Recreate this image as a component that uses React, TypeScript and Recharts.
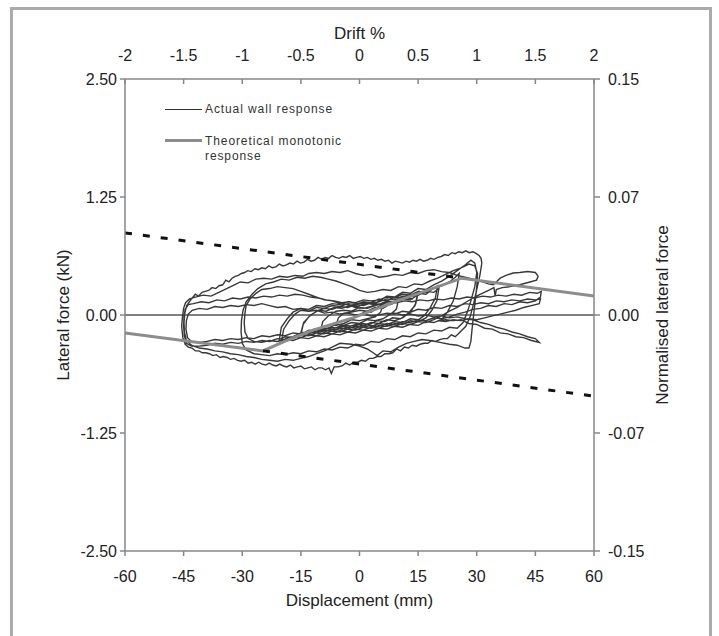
import { ComposedChart, Line, XAxis, YAxis, ReferenceLine } from "recharts";

const FONT = '"Liberation Sans", Arial, sans-serif';

// axis ticks
const displacementTicks = [-60, -45, -30, -15, 0, 15, 30, 45, 60];
const driftTicks = [-2, -1.5, -1, -0.5, 0, 0.5, 1, 1.5, 2];
const forceTicks = [-2.5, -1.25, 0, 1.25, 2.5];
const normTicks = [-0.15, -0.075, 0, 0.075, 0.15];
const normTickLabels = ["-0.15", "-0.07", "0.00", "0.07", "0.15"];

// [displacement mm, lateral force kN]
const theoreticalPts = [
  [-60, -0.19], [-24.7, -0.38], [-18.6, -0.27], [-11.9, -0.16], [-1.7, -0.03],
  [10.4, 0.16], [26.2, 0.39], [60, 0.2],
];
const upperEnvelopePts = [[-60, 0.87], [26.2, 0.39]];
const lowerEnvelopePts = [[-24.7, -0.38], [60, -0.86]];

// measured cyclic response, cycle by cycle
const wallCycle1 = [
  [0, 0], [1.5, 0.04], [3, 0.03], [4.5, 0.08], [6, 0.11], [5.4, 0.03], [4, -0.02], [2, -0.04],
  [0, -0.06], [-2, -0.05], [-4, -0.09], [-6, -0.11], [-5.4, -0.03], [-4, 0.02], [-2, 0.03],
  [0, 0.05], [2, 0.04],
];
const wallCycle2 = [
  [4, 0.08], [6, 0.07], [8, 0.12], [10, 0.16], [9.4, 0.06], [8, 0.01], [6, -0.04], [4, -0.06],
  [2, -0.05], [0, -0.09], [-2, -0.08], [-4, -0.11], [-6, -0.1], [-8, -0.14], [-10, -0.17],
  [-9.4, -0.07], [-8, -0.01], [-6, 0.04], [-4, 0.05], [-2, 0.04], [0, 0.08], [2, 0.07], [4, 0.1],
];
const wallCycle3 = [
  [6, 0.12], [8, 0.11], [10, 0.15], [12, 0.18], [13.5, 0.17], [15, 0.24], [14.4, 0.12], [13, 0.03],
  [11, -0.03], [9, -0.06], [7, -0.05], [5, -0.09], [3, -0.08], [1, -0.11], [-1, -0.1], [-3, -0.13],
  [-5, -0.12], [-7, -0.15], [-9, -0.14], [-11, -0.17], [-13, -0.16], [-15, -0.21], [-14.4, -0.1],
  [-13, -0.02], [-11, 0.04], [-9, 0.07], [-7, 0.06], [-5, 0.09], [-3, 0.08], [-1, 0.11], [1, 0.1],
  [3, 0.13],
];
const wallCycle3b = [
  [5, 0.11], [7, 0.15], [9, 0.13], [11, 0.17], [13, 0.16], [14.8, 0.21], [14.2, 0.1], [12.5, 0.02],
  [10.5, -0.04], [8.5, -0.03], [6.5, -0.07], [4.5, -0.06], [2.5, -0.1], [0.5, -0.09], [-1.5, -0.12],
  [-3.5, -0.11], [-5.5, -0.14], [-7.5, -0.13], [-9.5, -0.16], [-11.5, -0.15], [-13.5, -0.18],
  [-15, -0.19], [-14.3, -0.08], [-12.5, 0], [-10.5, 0.05], [-8.5, 0.04], [-6.5, 0.08], [-4.5, 0.07],
  [-2.5, 0.1], [-0.5, 0.09], [1.5, 0.12], [3, 0.12],
];
const wallCycle4 = [
  [5, 0.14], [7, 0.17], [9, 0.16], [11, 0.2], [13, 0.19], [15, 0.23], [17, 0.22], [18.5, 0.27],
  [20, 0.31], [19.4, 0.18], [18, 0.07], [16.5, -0.01], [15, -0.05], [13, -0.04], [11, -0.08],
  [9, -0.07], [7, -0.1], [5, -0.09], [3, -0.12], [1, -0.11], [-1, -0.14], [-3, -0.13], [-5, -0.16],
  [-7, -0.15], [-9, -0.18], [-11, -0.17], [-13, -0.2], [-15, -0.19], [-17, -0.23], [-18.5, -0.24],
  [-20, -0.28], [-19.4, -0.15], [-18, -0.06], [-16.5, 0.01], [-15, 0.05], [-13, 0.04], [-11, 0.08],
  [-9, 0.07], [-7, 0.1], [-5, 0.09], [-3, 0.12], [-1, 0.11], [1, 0.14], [3, 0.13],
];
const wallCycle4b = [
  [5, 0.17], [7, 0.15], [9, 0.19], [11, 0.18], [13, 0.22], [15, 0.21], [17, 0.25], [19, 0.24],
  [20.3, 0.28], [19.8, 0.15], [18.5, 0.05], [17, -0.03], [15, -0.07], [13, -0.06], [11, -0.1],
  [9, -0.09], [7, -0.12], [5, -0.11], [3, -0.14], [1, -0.13], [-1, -0.16], [-3, -0.15], [-5, -0.18],
  [-7, -0.17], [-9, -0.2], [-11, -0.19], [-13, -0.22], [-15, -0.21], [-17, -0.24], [-19, -0.23],
  [-20.5, -0.26], [-20, -0.13], [-18.5, -0.04], [-17, 0.03], [-15, 0.07], [-13, 0.06], [-11, 0.1],
  [-9, 0.09], [-7, 0.12], [-5, 0.11], [-3, 0.14], [-1, 0.13], [1, 0.16], [3, 0.15],
];
const wallCycle5 = [
  [5, 0.16], [7, 0.19], [9, 0.18], [11, 0.22], [13, 0.21], [15, 0.25], [17, 0.24], [19, 0.28],
  [21, 0.31], [23, 0.35], [24.5, 0.4], [25.5, 0.44], [25, 0.3], [24, 0.15], [22.5, 0.03],
  [21, -0.05], [19, -0.08], [17, -0.07], [15, -0.11], [13, -0.1], [11, -0.13], [9, -0.12],
  [7, -0.15], [5, -0.14], [3, -0.17], [1, -0.16], [-1, -0.19], [-3, -0.18], [-5, -0.21],
  [-7, -0.2], [-9, -0.23], [-11, -0.22], [-13, -0.25], [-15, -0.24], [-17, -0.27], [-19, -0.26],
  [-21, -0.28], [-23, -0.27], [-25, -0.29], [-27, -0.28], [-28.5, -0.25], [-29.3, -0.18],
  [-29.5, -0.08], [-29.3, 0.02], [-29, 0.1], [-28, 0.17], [-26.5, 0.23], [-25, 0.27], [-23, 0.28],
  [-21, 0.3], [-19, 0.29], [-17, 0.28], [-15, 0.25], [-13, 0.22], [-11, 0.19], [-9, 0.16],
  [-7, 0.15], [-5, 0.12], [-3, 0.11], [-1, 0.08], [1, 0.07], [3, 0.09],
];
const wallCycle6 = [
  [5, 0.15], [7, 0.2], [9, 0.19], [11, 0.24], [13, 0.23], [15, 0.28], [17, 0.27], [19, 0.32],
  [21, 0.36], [23, 0.41], [25, 0.47], [27, 0.53], [28.5, 0.58], [29.5, 0.55], [30, 0.45],
  [29.5, 0.3], [28.5, 0.15], [27.5, 0.02], [26.5, -0.08], [25, -0.14], [23, -0.13], [21, -0.17],
  [19, -0.16], [17, -0.2], [15, -0.19], [13, -0.23], [11, -0.22], [9, -0.26], [7, -0.25],
  [5, -0.29], [3, -0.28], [1, -0.32], [-1, -0.31], [-3, -0.35], [-5, -0.34], [-7, -0.37],
  [-9, -0.36], [-11, -0.39], [-13, -0.38], [-15, -0.41], [-17, -0.4], [-19, -0.42], [-21, -0.41],
  [-23, -0.43], [-25, -0.42], [-27, -0.41], [-29, -0.37], [-30, -0.3], [-30.3, -0.18],
  [-30.2, -0.06], [-29.8, 0.05], [-29, 0.14], [-27.5, 0.22], [-26, 0.28], [-24, 0.33], [-22, 0.35],
  [-20, 0.38], [-18, 0.37], [-16, 0.4], [-14, 0.39], [-12, 0.41], [-10, 0.4], [-8, 0.38],
  [-6, 0.36], [-4, 0.33], [-2, 0.3], [0, 0.26], [2, 0.24], [4, 0.25],
];
const wallCycle7 = [
  [6, 0.27], [8, 0.26], [10, 0.3], [12, 0.29], [14, 0.33], [16, 0.32], [18, 0.36], [20, 0.39],
  [22, 0.43], [24, 0.47], [26, 0.5], [28, 0.54], [29.5, 0.52], [30.2, 0.44], [30, 0.3],
  [29.6, 0.15], [29.2, 0], [28.8, -0.15], [28.5, -0.28], [28, -0.35], [27, -0.35], [25, -0.32],
  [23, -0.31], [20.6, -0.29], [18, -0.27], [16, -0.26], [14, -0.28], [12, -0.3], [10, -0.34],
  [8, -0.39], [6, -0.38], [4.5, -0.43], [3.5, -0.4], [2, -0.36], [0, -0.33], [-2, -0.31],
  [-5, -0.3], [-7, -0.34], [-9, -0.38], [-11, -0.41], [-13, -0.44], [-15, -0.46], [-17, -0.48],
  [-19, -0.47], [-21, -0.49], [-23, -0.48], [-25, -0.47], [-27, -0.45], [-29, -0.44],
  [-31, -0.42], [-33, -0.41], [-35, -0.39], [-37, -0.38], [-39, -0.36], [-41, -0.35],
  [-43, -0.32], [-44.3, -0.27], [-44.8, -0.18], [-44.9, -0.08], [-44.7, 0.02], [-44.2, 0.1],
  [-43, 0.17], [-42, 0.22], [-41.2, 0.2], [-40.3, 0.24], [-39.5, 0.25], [-38.6, 0.26],
  [-37.7, 0.29], [-36.8, 0.28], [-35.9, 0.31], [-35, 0.32], [-34.2, 0.37], [-33.4, 0.35],
  [-32.6, 0.39], [-31.8, 0.41], [-31, 0.42], [-30.2, 0.44], [-29.4, 0.45], [-28.6, 0.47],
  [-27.7, 0.46], [-26.8, 0.49], [-25.9, 0.48], [-25, 0.5], [-24.1, 0.49], [-23.2, 0.52],
  [-22.3, 0.5], [-21.4, 0.51], [-20.5, 0.54], [-19.6, 0.52], [-18.7, 0.53], [-17.8, 0.55],
  [-16.9, 0.54], [-16, 0.57], [-15.1, 0.55], [-14.2, 0.56], [-13.3, 0.59], [-12.4, 0.57],
  [-11.5, 0.58], [-10.6, 0.61], [-9.7, 0.59], [-8.8, 0.61], [-7.9, 0.6], [-7, 0.63], [-6.1, 0.61],
  [-5.2, 0.6], [-4.3, 0.62], [-3.4, 0.61], [-2.5, 0.63], [-1.6, 0.6], [-0.7, 0.61], [0.2, 0.62],
  [1.1, 0.6], [2, 0.61], [2.9, 0.59], [3.8, 0.6], [4.7, 0.58], [5.6, 0.59], [6.5, 0.57],
  [7.4, 0.58], [8.3, 0.55], [9.2, 0.57], [10.1, 0.56], [11, 0.55], [11.9, 0.57], [12.8, 0.56],
  [13.7, 0.58], [14.6, 0.57], [15.5, 0.59], [16.4, 0.57], [17.3, 0.58], [18.2, 0.6], [19.1, 0.59],
  [20, 0.61], [20.9, 0.62], [21.8, 0.64], [22.7, 0.63], [23.6, 0.66], [24.5, 0.65], [25.4, 0.67],
  [26.3, 0.66], [27.2, 0.68], [28.1, 0.66], [29, 0.67], [29.9, 0.65], [30.6, 0.63], [31.1, 0.6],
  [31.3, 0.55],
];
const wallCycle8 = [
  [30.8, 0.42], [30, 0.27], [29.2, 0.12], [28.3, -0.02], [27.2, -0.12], [25.5, -0.19],
  [24.5, -0.23], [23.5, -0.21], [22.5, -0.25], [21.5, -0.25], [20.5, -0.26], [19.5, -0.28],
  [18.5, -0.27], [17.5, -0.3], [16.5, -0.3], [15.5, -0.31], [14.5, -0.33], [13.5, -0.32],
  [12.5, -0.35], [11.5, -0.34], [10.5, -0.38], [9.5, -0.36], [8.5, -0.4], [7.5, -0.41],
  [6.5, -0.41], [5.5, -0.44], [4.5, -0.44], [3.5, -0.46], [2.5, -0.46], [1.5, -0.49], [0.5, -0.48],
  [-0.5, -0.5], [-1.5, -0.5], [-2.5, -0.53], [-3.5, -0.51], [-4.5, -0.54], [-5.5, -0.55],
  [-6.5, -0.55], [-7.2, -0.62], [-7.8, -0.56], [-8.7, -0.58], [-9.6, -0.56], [-10.5, -0.56],
  [-11.4, -0.58], [-12.3, -0.55], [-13.2, -0.56], [-14.1, -0.57], [-15, -0.54], [-15.9, -0.55],
  [-16.8, -0.56], [-17.7, -0.53], [-18.6, -0.55], [-19.5, -0.54], [-20.4, -0.52], [-21.3, -0.54],
  [-22.2, -0.53], [-23.1, -0.51], [-24, -0.53], [-24.9, -0.52], [-25.8, -0.5], [-26.7, -0.52],
  [-27.6, -0.5], [-28.5, -0.51], [-29.4, -0.48], [-30.3, -0.49], [-31.2, -0.48], [-32.1, -0.46],
  [-33, -0.47], [-33.9, -0.45], [-34.8, -0.44], [-35.7, -0.45], [-36.6, -0.42], [-37.5, -0.43],
  [-38.4, -0.41], [-39.3, -0.4], [-40.2, -0.4], [-41.1, -0.38], [-42, -0.38], [-42.9, -0.35],
  [-43.8, -0.34], [-44.6, -0.31], [-45.2, -0.24], [-45.5, -0.12], [-45.3, -0.02], [-45, 0.07],
  [-44.5, 0.13], [-43.5, 0.17], [-42, 0.19], [-40, 0.21], [-38, 0.2], [-36, 0.24], [-34, 0.28],
  [-32, 0.32], [-30.5, 0.35], [-28.5, 0.34], [-26.5, 0.38], [-24.5, 0.39], [-22.5, 0.38],
  [-20.5, 0.41], [-18.5, 0.4], [-16.5, 0.42], [-14.5, 0.41], [-13, 0.44], [-11, 0.45], [-9, 0.44],
  [-7, 0.46], [-5, 0.45], [-3, 0.47], [-1, 0.44], [1, 0.42], [3, 0.43], [5, 0.4], [7, 0.41],
  [9, 0.43], [11, 0.42], [13, 0.45], [15, 0.44], [17, 0.47], [19, 0.48], [21, 0.46], [23, 0.45],
  [25, 0.42], [27, 0.4], [29, 0.38], [31, 0.36], [33, 0.33], [34.2, 0.32], [35, 0.35], [36, 0.39],
  [37.5, 0.42], [39.3, 0.445], [41, 0.45], [43, 0.46], [45, 0.45], [45.7, 0.41], [45.3, 0.37],
  [43.6, 0.35], [41, 0.32], [38.5, 0.3], [36.5, 0.29], [35, 0.27], [34.7, 0.2], [34.4, 0.29],
  [33, 0.26], [31, 0.22], [29, 0.18], [27, 0.13], [25, 0.08], [23, 0.04], [21, -0.01], [19, -0.05],
  [17, -0.08], [15, -0.07], [13, -0.1], [11, -0.09], [9, -0.12], [7, -0.11], [5, -0.14], [3, -0.13],
  [1, -0.16], [-1, -0.15], [-3, -0.18], [-5, -0.17], [-7, -0.2], [-9, -0.19], [-11, -0.22],
  [-13, -0.21], [-15, -0.24], [-17, -0.23], [-19, -0.26], [-21, -0.25], [-23, -0.28], [-25, -0.27],
  [-27, -0.29], [-29, -0.28], [-31, -0.3], [-33, -0.29], [-35, -0.31], [-37, -0.3], [-39, -0.32],
  [-41, -0.33], [-43, -0.33], [-44.3, -0.3], [-44.8, -0.22], [-45, -0.12], [-44.9, -0.02],
  [-44.6, 0.06], [-43.8, 0.11], [-42.5, 0.12], [-40.5, 0.14], [-38.5, 0.13], [-36.5, 0.16],
  [-34.5, 0.15], [-32.5, 0.18], [-30.5, 0.17], [-28.5, 0.19], [-26.5, 0.18], [-24.5, 0.2],
  [-22.5, 0.19], [-20.5, 0.21], [-18.5, 0.2], [-16.5, 0.22], [-14.5, 0.21], [-12.5, 0.19],
  [-10.5, 0.18], [-8.5, 0.16], [-6.5, 0.15], [-4.5, 0.13], [-2.5, 0.14], [-0.5, 0.12], [1.5, 0.13],
  [3.5, 0.11], [5.5, 0.12], [7.5, 0.14], [9.5, 0.13], [11.5, 0.15], [13.5, 0.14], [15.5, 0.16],
  [17.5, 0.15], [19.5, 0.17], [21.5, 0.16], [23.5, 0.18], [25.5, 0.17], [27.5, 0.19], [29.5, 0.18],
  [31.5, 0.2], [33.5, 0.19], [35.5, 0.21], [37.5, 0.2], [39.5, 0.22], [41.5, 0.21], [43.5, 0.24],
  [45.5, 0.23], [46.5, 0.25], [46.3, 0.19], [45, 0.15], [43, 0.13], [41, 0.14], [39, 0.11],
  [37, 0.12], [35, 0.09], [33, 0.1], [31, 0.07], [29, 0.06], [27, 0.03], [25, 0.01], [23, -0.02],
  [21, -0.04], [19, -0.03], [17, -0.06],
];
const wallCycle9 = [
  [15, -0.05], [13, -0.08], [11, -0.07], [9, -0.1], [7, -0.09], [5, -0.12], [3, -0.11], [1, -0.13],
  [-1, -0.12], [-3, -0.15], [-5, -0.14], [-7, -0.17], [-9, -0.16], [-11, -0.19], [-13, -0.18],
  [-15, -0.2], [-17, -0.19], [-19, -0.22], [-21, -0.21], [-23, -0.23], [-25, -0.22], [-27, -0.25],
  [-29, -0.24], [-31, -0.26], [-33, -0.25], [-35, -0.27], [-37, -0.26], [-39, -0.28], [-41, -0.29],
  [-43, -0.28], [-44, -0.24], [-44.4, -0.15], [-44.3, -0.06], [-43.8, 0.01], [-42.8, 0.05],
  [-41, 0.07], [-39, 0.06], [-37, 0.09], [-35, 0.08], [-33, 0.1], [-31, 0.09], [-29, 0.11],
  [-27, 0.1], [-25, 0.12], [-23, 0.1], [-21, 0.08], [-19, 0.09], [-17, 0.06], [-15, 0.07],
  [-13, 0.04], [-11, 0.05], [-9, 0.02], [-7, 0.03], [-5, 0.01], [-3, 0.02], [-1, 0], [1, 0.01],
  [3, -0.01], [5, 0], [7, 0.02], [9, 0.01], [11, 0.04], [13, 0.03], [15, 0.06], [17, 0.05],
  [19, 0.08], [21, 0.07], [23, 0.1], [25, 0.09], [27, 0.12], [29, 0.11], [31, 0.13], [33, 0.12],
  [35, 0.15], [37, 0.14], [39, 0.16], [41, 0.15], [43, 0.17], [45, 0.16], [46.3, 0.17], [46, 0.12],
  [44, 0.1], [42, 0.08], [40, 0.05], [38, 0.03], [36, 0.01], [34, -0.01], [32, -0.03], [30, -0.05],
  [28, -0.04], [26, -0.06], [24, -0.05], [22, -0.07], [20, -0.06],
];
const wallCycle10 = [
  [22, -0.05], [24, -0.06], [26, -0.05], [28, -0.09], [30, -0.1], [32, -0.14], [34, -0.15],
  [36, -0.19], [38, -0.2], [40, -0.23], [42, -0.24], [44, -0.27], [46, -0.29], [45, -0.25],
  [43, -0.23], [41, -0.2], [39, -0.18], [37, -0.15], [35, -0.13], [33, -0.1], [31, -0.08],
  [29, -0.05], [27, -0.04], [25, -0.02], [23, -0.03], [21, -0.01], [19, -0.02], [17, 0],
  [15, -0.01], [13, 0.01], [11, 0], [9, 0.02], [7, 0.01],
];

const toRows = (pts: number[][]) => pts.map(([d, f]) => ({ d, f }));

const wallResponse = toRows([
  ...wallCycle1, ...wallCycle2, ...wallCycle3, ...wallCycle3b, ...wallCycle4, ...wallCycle4b,
  ...wallCycle5, ...wallCycle6, ...wallCycle7, ...wallCycle8, ...wallCycle9, ...wallCycle10,
]);
const theoretical = toRows(theoreticalPts);
const upperEnvelope = toRows(upperEnvelopePts);
const lowerEnvelope = toRows(lowerEnvelopePts);
// chart-level rows so the secondary drift axis has something to scale against
const driftRows = driftTicks.map((drift) => ({ drift }));

const tickStyle = { fill: "#222", fontSize: 16, fontFamily: FONT };
const titleStyle = { fill: "#222", fontSize: 17, fontFamily: FONT, textAnchor: "middle" as const };
const axisStroke = { stroke: "#878787", strokeWidth: 1.5 };

export default function App() {
  return (
    <div
      style={{
        position: "absolute",
        left: 0,
        top: 0,
        width: 719,
        height: 636,
        background: "#fff",
        overflow: "hidden",
        fontFamily: FONT,
      }}
    >
      <div
        style={{
          position: "absolute",
          left: 10,
          top: 7,
          width: 702,
          height: 660,
          border: "3px solid #ababab",
          boxSizing: "border-box",
        }}
      />
      <ComposedChart
        width={719}
        height={636}
        data={driftRows}
        margin={{ top: 0, right: 0, bottom: 0, left: 0 }}
        style={{ position: "absolute", left: 0, top: 0 }}
      >
        <XAxis
          xAxisId="mm"
          type="number"
          dataKey="d"
          orientation="bottom"
          domain={[-60, 60]}
          allowDataOverflow
          ticks={displacementTicks}
          interval={0}
          height={85}
          tick={tickStyle}
          tickSize={5}
          tickMargin={15}
          axisLine={axisStroke}
          tickLine={axisStroke}
          label={{ value: "Displacement (mm)", position: "insideBottom", offset: 30, style: titleStyle }}
        />
        <XAxis
          xAxisId="drift"
          type="number"
          dataKey="drift"
          orientation="top"
          domain={[-2, 2]}
          allowDataOverflow
          ticks={driftTicks}
          interval={0}
          height={79}
          tick={tickStyle}
          tickSize={-5}
          tickMargin={23}
          axisLine={axisStroke}
          tickLine={axisStroke}
          label={{ value: "Drift %", position: "insideTop", offset: 27, style: titleStyle }}
        />
        <YAxis
          yAxisId="kN"
          type="number"
          domain={[-2.5, 2.5]}
          allowDataOverflow
          ticks={forceTicks}
          interval={0}
          width={125}
          tick={tickStyle}
          tickSize={5}
          tickMargin={3}
          tickFormatter={(v: number) => v.toFixed(2)}
          axisLine={axisStroke}
          tickLine={axisStroke}
          label={{ value: "Lateral force (kN)", angle: -90, position: "insideLeft", offset: 63, style: titleStyle }}
        />
        <YAxis
          yAxisId="norm"
          orientation="right"
          type="number"
          domain={[-0.15, 0.15]}
          allowDataOverflow
          ticks={normTicks}
          interval={0}
          width={125}
          tick={tickStyle}
          tickSize={6}
          tickMargin={8}
          tickFormatter={(v: number) => normTickLabels[normTicks.indexOf(v)] ?? String(v)}
          axisLine={axisStroke}
          tickLine={axisStroke}
          label={{ value: "Normalised lateral force", angle: -90, position: "insideRight", offset: 57, style: titleStyle }}
        />
        <ReferenceLine xAxisId="mm" yAxisId="kN" y={0} stroke="#000" strokeWidth={1} />
        <Line
          xAxisId="mm"
          yAxisId="kN"
          data={wallResponse}
          dataKey="f"
          type="linear"
          stroke="#383838"
          strokeWidth={1.4}
          dot={false}
          activeDot={false}
          isAnimationActive={false}
        />
        <Line
          xAxisId="mm"
          yAxisId="kN"
          data={theoretical}
          dataKey="f"
          type="linear"
          stroke="#8c8c8c"
          strokeWidth={3}
          dot={false}
          activeDot={false}
          isAnimationActive={false}
        />
        <Line
          xAxisId="mm"
          yAxisId="kN"
          data={upperEnvelope}
          dataKey="f"
          type="linear"
          stroke="#111"
          strokeWidth={3}
          strokeDasharray="7 11"
          dot={false}
          activeDot={false}
          isAnimationActive={false}
        />
        <Line
          xAxisId="mm"
          yAxisId="kN"
          data={lowerEnvelope}
          dataKey="f"
          type="linear"
          stroke="#111"
          strokeWidth={3}
          strokeDasharray="7 11"
          dot={false}
          activeDot={false}
          isAnimationActive={false}
        />
      </ComposedChart>

      {/* legend inside the plot area */}
      <div style={{ position: "absolute", left: 165, top: 109, width: 37, height: 1, background: "#333" }} />
      <div
        style={{
          position: "absolute",
          left: 205,
          top: 102,
          fontSize: 12,
          lineHeight: "15px",
          letterSpacing: 0.9,
          color: "#333",
        }}
      >
        Actual wall response
      </div>
      <div style={{ position: "absolute", left: 165, top: 139, width: 37, height: 3, background: "#8c8c8c" }} />
      <div
        style={{
          position: "absolute",
          left: 205,
          top: 134,
          width: 160,
          fontSize: 12,
          lineHeight: "15px",
          letterSpacing: 0.9,
          color: "#333",
        }}
      >
        Theoretical monotonic
        <br />
        response
      </div>
    </div>
  );
}
